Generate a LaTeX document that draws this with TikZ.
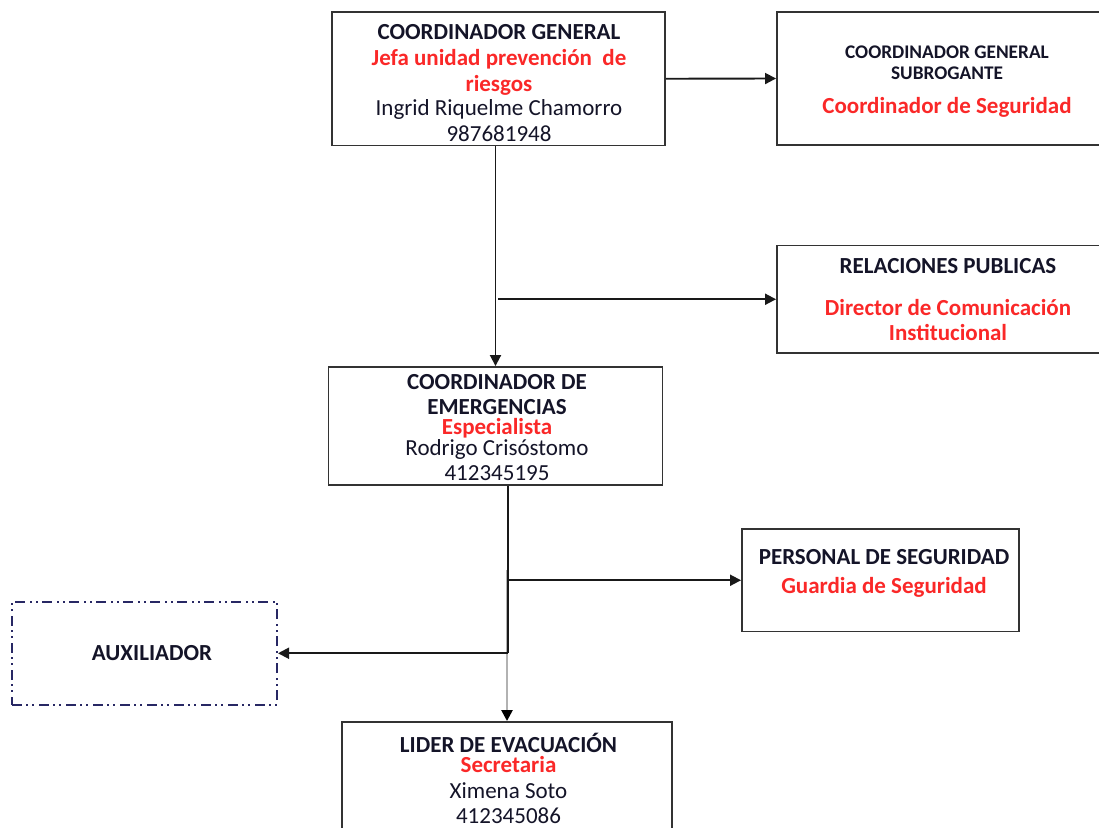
\documentclass[tikz,border=0pt]{standalone}
\usepackage{fontspec}
\setmainfont{Carlito}
\usetikzlibrary{arrows.meta}
\definecolor{txtred}{RGB}{250,40,40}
\definecolor{txtblk}{RGB}{20,20,40}
\definecolor{auxblue}{RGB}{40,40,100}
\newcommand{\rd}[1]{\textcolor{txtred}{\bfseries #1}}
\newcommand{\strt}{\rule{0pt}{20pt}}
\newcommand{\smallf}{\fontsize{19.3}{20}\selectfont}
\setlength{\lineskiplimit}{-30pt}
\setlength{\lineskip}{0pt}
\begin{document}
\begin{tikzpicture}[x=1pt,y=-1pt,
  box/.style={draw=black!80,line width=1.9pt,fill=none,inner sep=0pt},
  txt/.style={anchor=north,inner sep=0pt,align=center,text=txtblk,
    font={\fontsize{23}{20}\selectfont}},
  conn/.style={line width=1.9pt,draw=black!90},
  arr/.style={conn,-{Triangle[length=11pt,width=11pt]}},
  grayarr/.style={line width=2.4pt,draw=black!30,-{Triangle[length=11pt,width=11pt,color=black]}},
  auxbox/.style={draw=auxblue,line width=2pt,inner sep=0pt,
    dash pattern=on 10pt off 4pt on 2pt off 4pt on 2pt off 5pt}]
\useasboundingbox (0,0) rectangle (1099,827);
% boxes
\node[box,minimum width=333pt,minimum height=133.5pt] (cg) at (498.5,78.75) {};
\node[box,minimum width=333pt,minimum height=133pt] (sub) at (943.5,78.5) {};
\node[box,minimum width=333pt,minimum height=107.5pt] (rel) at (943.5,299.25) {};
\node[box,minimum width=334pt,minimum height=118pt] (ce) at (495.5,426) {};
\node[box,minimum width=277pt,minimum height=102.5pt] (ps) at (880.5,580.25) {};
\node[auxbox,minimum width=265pt,minimum height=103.5pt] (aux) at (144.5,653.25) {};
\node[box,minimum width=330pt,minimum height=128pt] (lid) at (507,786) {};
% texts
\node[txt] (cgt) at (499,19) {\strt\textbf{COORDINADOR GENERAL}\\[6pt]
  \rd{Jefa unidad prevención\ \ de}\\[6.7pt]
  \rd{riesgos}\\[3.3pt]
  Ingrid Riquelme Chamorro\\[6.7pt]
  987681948};
\node[txt] (subt) at (947,38) {\strt{\smallf\textbf{COORDINADOR GENERAL}}\\[1.3pt]
  {\smallf\textbf{SUBROGANTE}}\\[13.7pt]
  \rd{Coordinador de Seguridad}};
\node[txt] (relt) at (948,253.3) {\strt\textbf{RELACIONES PUBLICAS}\\[21.7pt]
  \rd{Director de Comunicación}\\[5pt]
  \rd{Institucional}};
\node[txt] (cet) at (497,369) {\strt\textbf{COORDINADOR DE}\\[5pt]
  \textbf{EMERGENCIAS}\\[0pt]
  \rd{Especialista}\\[1pt]
  Rodrigo Crisóstomo\\[5.7pt]
  412345195};
\node[txt] (pst) at (884,544) {\strt\textbf{PERSONAL DE SEGURIDAD}\\[9pt]
  \rd{Guardia de Seguridad}};
\node[txt] (auxt) at (152,640) {\strt\textbf{AUXILIADOR}};
\node[txt] (lidt) at (508.5,732) {\strt\textbf{LIDER DE EVACUACIÓN}\\[0pt]
  \rd{Secretaria}\\[6pt]
  Ximena Soto\\[5.4pt]
  412345086};
% connectors
\draw[arr] (cg.east) -- (sub.west);
\draw[arr] (cg.south -| ce.north) -- (ce.north);
\coordinate (b1) at (498,299.25);
\draw[arr] (b1) -- (rel.west);
\coordinate (j2) at (508,653.25);
\coordinate (g) at (507,570);
\draw[grayarr] (g) -- (g |- lid.north);
\draw[conn] (ce.south -| j2) -- (j2);
\draw[arr] (j2) -- (aux.east);
\coordinate (b2) at (508,580.25);
\draw[arr] (b2) -- (ps.west);
\end{tikzpicture}
\end{document}
